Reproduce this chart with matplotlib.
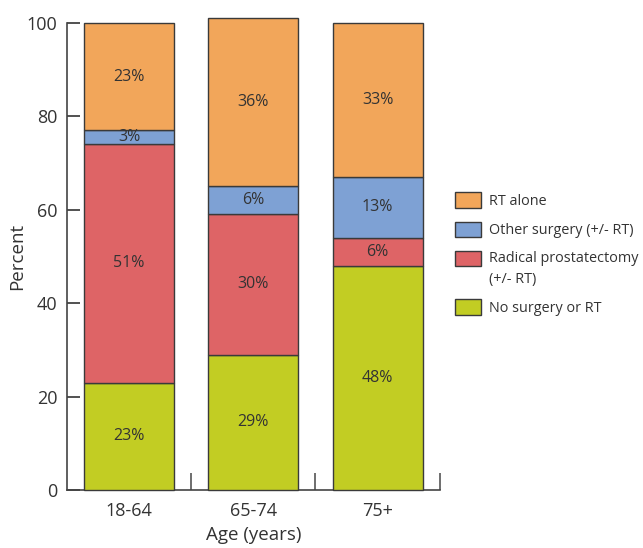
import matplotlib
matplotlib.use("Agg")
import matplotlib.pyplot as plt
import numpy as np

plt.rcParams["font.family"] = ["Open Sans", "DejaVu Sans"]

ages = ["18-64", "65-74", "75+"]
no_surgery = [23, 29, 48]
radical = [51, 30, 6]
other = [3, 6, 13]
rt_alone = [23, 36, 33]

series = [
    ("No surgery or RT", no_surgery, "#C2CD23"),
    ("Radical prostatectomy\n(+/- RT)", radical, "#DE6466"),
    ("Other surgery (+/- RT)", other, "#7EA1D4"),
    ("RT alone", rt_alone, "#F2A65A"),
]

TXT = "#333333"
EDGE = "#3a3a3a"

fig = plt.figure(figsize=(6.43, 5.48), dpi=100)
ax = fig.add_axes([0.104, 0.106, 0.580, 0.852])

x = np.arange(len(ages))
bottom = np.zeros(len(ages))
handles = []
for name, vals, col in series:
    bars = ax.bar(x, vals, width=0.726, bottom=bottom, color=col, edgecolor=EDGE,
                  linewidth=1.0, label=name, clip_on=False, zorder=3)
    for xi, b, v in zip(x, bottom, vals):
        ax.text(xi, b + v / 2, f"{v}%", ha="center", va="center", fontsize=11.5,
                color=TXT, zorder=4)
    bottom += vals
    handles.append(bars)

ax.set_xlim(-0.5, 2.5)
ax.set_ylim(0, 100)
ax.set_yticks(range(0, 101, 20))
ax.set_xticks(x)
ax.set_xticklabels(ages)
ax.set_xticks([0.5, 1.5, 2.5], minor=True)
ax.tick_params(axis="x", which="major", length=0, labelsize=13, colors=TXT, pad=9)
ax.tick_params(axis="x", which="minor", direction="in", length=12, width=1.2, color="#555555")
ax.tick_params(axis="y", direction="in", length=9, width=1.2, color="#333333",
               labelsize=13, labelcolor=TXT, pad=7)
for s in ("top", "right"):
    ax.spines[s].set_visible(False)
for s in ("left", "bottom"):
    ax.spines[s].set_linewidth(1.2)
    ax.spines[s].set_color("#444444")

ax.set_ylabel("Percent", fontsize=13.5, color=TXT)
ax.yaxis.set_label_coords(-0.11, 0.5)
ax.set_xlabel("Age (years)", fontsize=13.5, color=TXT, labelpad=4)

leg = ax.legend(handles[::-1], [s[0] for s in series][::-1], loc="center left",
                bbox_to_anchor=(1.04, 0.505), frameon=False, fontsize=10.4,
                borderaxespad=0, borderpad=0,
                handlelength=1.8, handleheight=1.25, handletextpad=0.6,
                labelspacing=0.88, labelcolor=TXT)
# two-line entry: wider line spacing, swatch next to the first line
leg.get_texts()[2].set_linespacing(1.55)
rp = leg.legend_handles[2]
rp.set_y(rp.get_y() + 8)

fig.savefig("out.png", dpi=100)
